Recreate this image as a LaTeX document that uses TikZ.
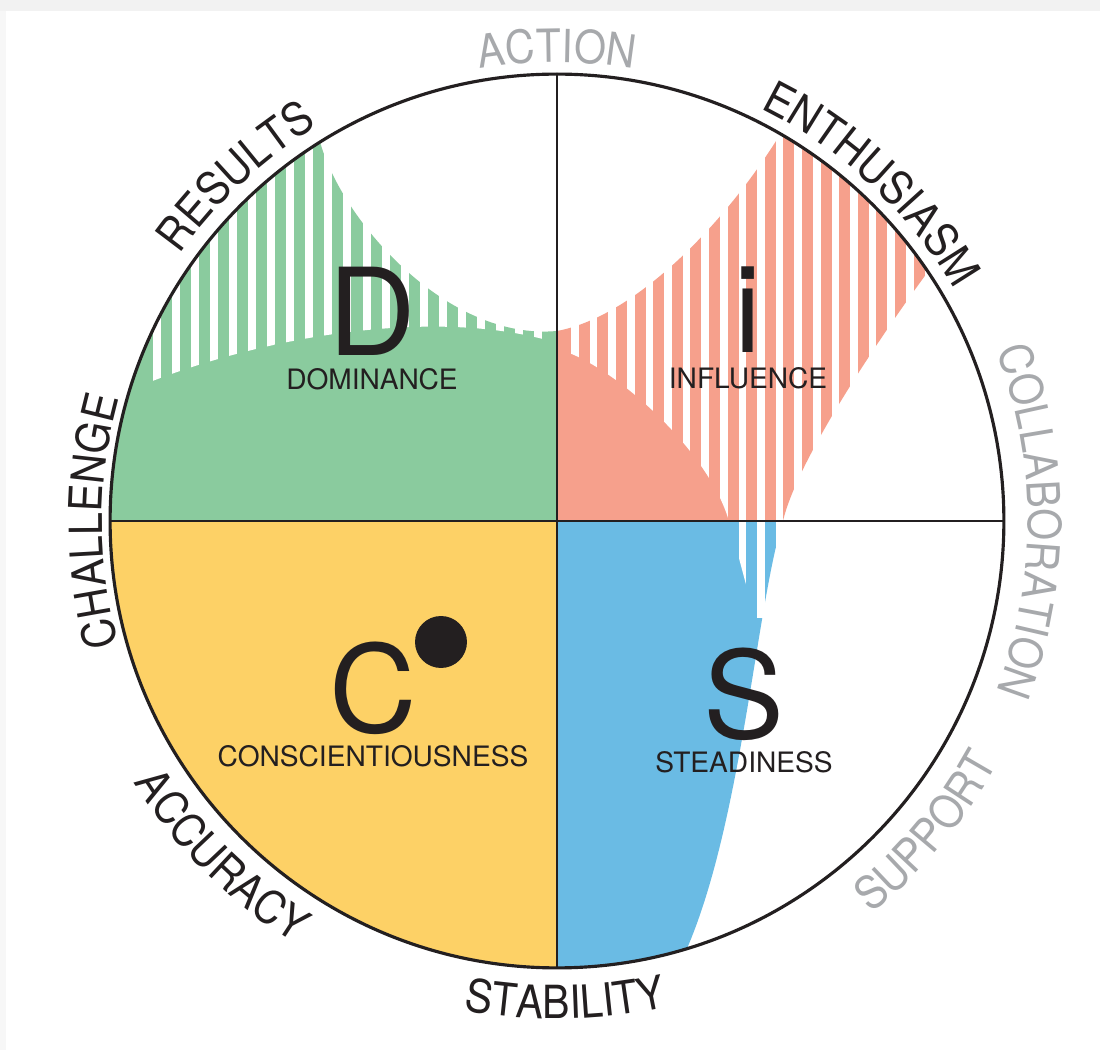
\documentclass[tikz,border=0pt]{standalone}
\usepackage{fontspec}
\setmainfont{TeX Gyre Heros}
\newfontfamily\ringfont[FakeStretch=0.9]{TeX Gyre Heros}
\usepackage{tikz}
\usetikzlibrary{positioning, decorations.text}

\definecolor{domgreen}{HTML}{8ACB9E}
\definecolor{infred}{HTML}{F6A08C}
\definecolor{stblue}{HTML}{6ABBE4}
\definecolor{conyellow}{HTML}{FDD166}
\definecolor{ink}{HTML}{231F20}
\definecolor{softgrey}{HTML}{A7A9AC}

\begin{document}
\begin{tikzpicture}[x=0.02cm,y=0.02cm,node distance=1.36cm,semithick]
  \tikzstyle{letter}=[text=ink,inner sep=0pt,font=\fontsize{69}{69}\selectfont]
  \tikzstyle{trait}=[text=ink,inner sep=0pt,font=\fontsize{16}{16}\selectfont]
  \tikzstyle{dot}=[circle,fill=ink,inner sep=0pt,minimum size=1.04cm]
  \tikzstyle{ring}=[decorate,decoration={text along path,text align=center}]
  \tikzstyle{rim}=[draw=ink,line width=1.8pt]

  \fill[white] (-557,-529) rectangle (543,521);
  \fill[gray!10] (-557,510) rectangle (543,521);
  \fill[gray!6] (-557,-529) rectangle (-551,510);
  \coordinate (O) at (0,0);

  \fill[conyellow] (O) -- (180:447) arc[start angle=180,end angle=270,radius=8.94cm] -- cycle;
  \fill[domgreen] (O) -- (180:447) arc[start angle=180,end angle=122,radius=8.94cm]
        .. controls (-215,300) and (-110,180) .. (0,190) -- cycle;
  \fill[infred] (O) -- (0,190) .. controls (80,205) and (170,300) .. (60:447)
        arc[start angle=60,end angle=33.9,radius=8.94cm]
        .. controls (320,180) and (240,60) .. (226,0) -- cycle;
  \fill[stblue] (O) -- (226,0) .. controls (200,-80) and (185,-300) .. (-73.1:447)
        arc[start angle=-73.1,end angle=-90,radius=8.94cm] -- cycle;

  \begin{scope}
    \clip (163:447) .. controls (-300,185) and (-120,215) .. (0,178) -- (0,470) -- (-470,470) -- (-470,131) -- cycle;
    \foreach \k in {0,...,20}
      \fill[white] ({-404+19.05*\k},0) rectangle ++(8,470);
  \end{scope}
  \begin{scope}
    \clip (0,172) .. controls (50,160) and (150,75) .. (172,0) -- (198,-97) -- (470,-97) -- (470,470) -- (0,470) -- cycle;
    \foreach \k in {0,...,19}
      \fill[white] ({14.25+18.6*\k},-110) rectangle ++(7.5,580);
  \end{scope}

  \draw[ink,line width=1.1pt] (0,-447) -- (0,447) (-447,0) -- (447,0);
  \draw[rim] (O) circle[radius=8.94cm];

  \node[letter] (D) at (-185,210) {D};
  \node[trait]  (Dom) [below of=D] {DOMINANCE};
  \node[letter] (I) at (191,211) {i};
  \node[trait]  (Inf) [below of=I] {INFLUENCE};
  \node[letter] (C) at (-184,-167) {C};
  \node[trait]  (Con) [below of=C] {CONSCIENTIOUSNESS};
  \node[dot]    (Cdot) at (-116,-121) {};
  \node[letter] (S) at (187,-173) {S};
  \node[trait]  (Ste) [below of=S] {STEADINESS};

  \path[ring,decoration={text={|\ringfont\fontsize{26}{26}\selectfont\color{softgrey}|ACTION}}] (130:459) arc[start angle=130,end angle=50,radius=9.18cm];
  \path[ring,decoration={text={|\ringfont\fontsize{26}{26}\selectfont\color{ink}|ENTHUSIASM}}] (87:460) arc[start angle=87,end angle=7,radius=9.2cm];
  \path[ring,decoration={text={|\ringfont\fontsize{26}{26}\selectfont\color{softgrey}|COLLABORATION}}] (40:471) arc[start angle=40,end angle=-40,radius=9.42cm];
  \path[ring,decoration={text={|\ringfont\fontsize{26}{26}\selectfont\color{ink}|RESULTS}}] (173:462) arc[start angle=173,end angle=93,radius=9.24cm];
  \path[ring,decoration={text={|\ringfont\fontsize{26}{26}\selectfont\color{ink}|CHALLENGE}}] (220:455) arc[start angle=220,end angle=140,radius=9.1cm];
  \path[ring,decoration={text={|\ringfont\fontsize{26}{26}\selectfont\color{ink}|ACCURACY}}] (-175:497) arc[start angle=-175,end angle=-95,radius=9.94cm];
  \path[ring,decoration={text={|\ringfont\fontsize{26}{26}\selectfont\color{ink}|STABILITY}}] (-129:498) arc[start angle=-129,end angle=-49,radius=9.96cm];
  \path[ring,decoration={text={|\ringfont\fontsize{26}{26}\selectfont\color{softgrey}|SUPPORT}}] (-80:503) arc[start angle=-80,end angle=0,radius=10.06cm];
\end{tikzpicture}
\end{document}
